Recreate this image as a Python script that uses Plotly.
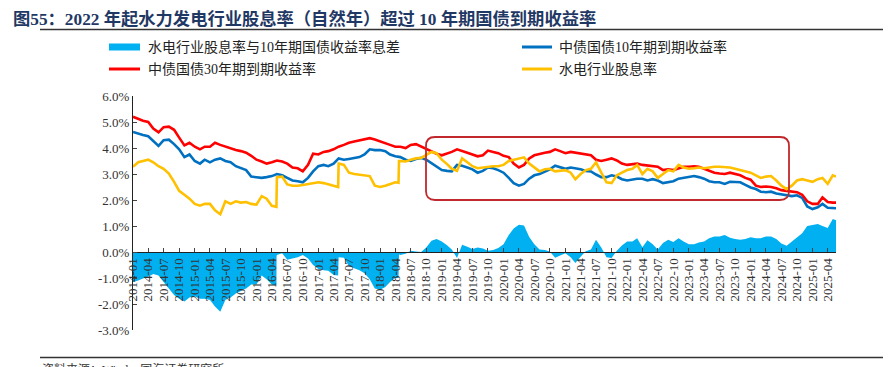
import pandas as pd
import plotly.graph_objects as go

# ---------------- data (monthly, 2014-01 .. 2025-05, plus last trading day) ----------------
month_dates = [d.strftime("%Y-%m-%d") for d in pd.date_range("2014-01-01", periods=137, freq="MS")] + ["2025-05-20"]

cgb10y = [
    4.62, 4.55, 4.50, 4.45, 4.25, 4.08, 4.30, 4.32, 4.15, 3.95, 3.65, 3.75,
    3.50, 3.40, 3.55, 3.45, 3.55, 3.60, 3.50, 3.45, 3.30, 3.22, 3.15, 2.90,
    2.88, 2.85, 2.88, 2.92, 3.00, 2.95, 2.85, 2.75, 2.72, 2.68, 2.85, 3.10,
    3.30, 3.35, 3.30, 3.40, 3.60, 3.55, 3.58, 3.62, 3.65, 3.75, 3.95, 3.92,
    3.92, 3.88, 3.75, 3.68, 3.65, 3.55, 3.50, 3.58, 3.62, 3.55, 3.42, 3.28,
    3.15, 3.12, 3.10, 3.35, 3.32, 3.25, 3.18, 3.05, 3.12, 3.25, 3.22, 3.15,
    3.05, 2.85, 2.65, 2.55, 2.62, 2.82, 2.95, 3.00, 3.10, 3.18, 3.32, 3.25,
    3.20, 3.25, 3.22, 3.18, 3.12, 3.10, 2.98, 2.88, 2.88, 2.95, 2.90, 2.80,
    2.75, 2.80, 2.82, 2.82, 2.75, 2.80, 2.75, 2.65, 2.68, 2.72, 2.82, 2.85,
    2.90, 2.92, 2.88, 2.82, 2.72, 2.68, 2.68, 2.62, 2.70, 2.70, 2.68, 2.58,
    2.48, 2.42, 2.32, 2.30, 2.32, 2.25, 2.22, 2.18, 2.15, 2.18, 2.08, 1.75,
    1.65, 1.72, 1.85, 1.70, 1.68, 1.68,
]

cgb30y = [
    5.20, 5.12, 5.05, 5.00, 4.75, 4.60, 4.80, 4.82, 4.70, 4.40, 4.10, 4.20,
    4.05, 3.95, 4.05, 4.05, 4.20, 4.12, 4.05, 4.00, 3.92, 3.88, 3.82, 3.70,
    3.55, 3.48, 3.40, 3.45, 3.52, 3.48, 3.40, 3.25, 3.22, 3.10, 3.35, 3.78,
    3.75, 3.85, 3.88, 3.95, 4.05, 4.12, 4.20, 4.25, 4.30, 4.35, 4.38, 4.33,
    4.25, 4.20, 4.12, 4.05, 4.05, 4.00, 4.12, 4.15, 4.05, 3.95, 3.88, 3.78,
    3.72, 3.78, 3.85, 3.95, 3.90, 3.82, 3.75, 3.68, 3.72, 3.90, 3.85, 3.80,
    3.70, 3.65, 3.40, 3.25, 3.35, 3.60, 3.72, 3.78, 3.82, 3.85, 3.95, 3.88,
    3.80, 3.85, 3.82, 3.80, 3.75, 3.72, 3.55, 3.50, 3.55, 3.60, 3.52, 3.40,
    3.35, 3.38, 3.40, 3.35, 3.32, 3.30, 3.28, 3.15, 3.18, 3.15, 3.22, 3.28,
    3.28, 3.30, 3.28, 3.20, 3.12, 3.05, 3.02, 3.00, 3.05, 3.00, 2.95, 2.85,
    2.78, 2.55, 2.50, 2.52, 2.50, 2.45, 2.38, 2.35, 2.32, 2.30, 2.20, 1.95,
    1.85, 1.85, 2.10, 1.92, 1.90, 1.90,
]

hydro_yield = [
    3.28, 3.45, 3.50, 3.55, 3.45, 3.30, 3.20, 3.02, 2.70, 2.35, 2.20, 2.05,
    1.85, 1.78, 1.85, 1.85, 1.60, 1.45, 1.95, 1.85, 1.95, 1.90, 1.92, 1.85,
    1.82, 2.15, 2.05, 1.78, 2.88, 2.90, 2.60, 2.55, 2.55, 2.58, 2.62, 2.65,
    2.68, 2.65, 2.60, 2.52, 3.40, 3.35, 3.05, 3.00, 2.98, 2.95, 2.92, 2.55,
    2.50, 2.55, 2.62, 2.68, 3.50, 3.48, 3.55, 3.60, 3.62, 3.72, 3.85, 3.80,
    3.55, 3.38, 3.20, 3.12, 3.60, 3.45, 3.30, 3.22, 3.25, 3.28, 3.30, 3.30,
    3.35, 3.50, 3.55, 3.60, 3.64, 3.40, 3.25, 3.10, 3.18, 3.20, 3.10, 3.12,
    3.15, 3.05, 2.80, 3.00, 3.15, 3.20, 3.45, 3.05, 2.68, 2.65, 2.95, 3.05,
    3.15, 3.20, 3.35, 3.00, 3.20, 3.10, 2.85, 3.00, 3.15, 3.10, 3.35, 3.25,
    3.20, 3.22, 3.25, 3.22, 3.25, 3.28, 3.28, 3.27, 3.25, 3.20, 3.15, 3.08,
    3.05, 2.95, 2.85, 2.90, 2.92, 2.75, 2.55, 2.42, 2.55, 2.75, 2.80, 2.75,
    2.70, 2.80, 2.85, 2.62, 2.95, 2.90,
]

spread = [
    -1.15, -1.10, -1.02, -0.95, -0.85, -0.90, -1.15, -1.40, -1.65, -1.80, -1.90, -1.75,
    -1.70, -1.80, -1.80, -1.85, -2.10, -2.30, -1.85, -1.75, -1.60, -1.50, -1.40, -1.25,
    -1.25, -0.90, -1.05, -1.25, -0.12, -0.05, -0.30, -0.25, -0.20, -0.12, -0.25, -0.50,
    -0.65, -0.70, -0.72, -0.88, -0.20, -0.22, -0.55, -0.62, -0.70, -0.82, -1.05, -1.40,
    -1.45, -1.35, -1.15, -1.00, -0.12, -0.07, 0.05, 0.02, 0.00, 0.17, 0.43, 0.50,
    0.40, 0.26, 0.10, -0.23, 0.28, 0.20, 0.12, 0.17, 0.13, 0.05, 0.08, 0.15,
    0.30, 0.65, 0.90, 1.05, 1.02, 0.58, 0.30, 0.10, 0.08, 0.02, -0.22, -0.13,
    -0.05, -0.20, -0.42, -0.18, 0.03, 0.10, 0.47, 0.17, -0.20, -0.23, 0.05, 0.25,
    0.40, 0.40, 0.53, 0.18, 0.45, 0.30, 0.10, 0.35, 0.47, 0.38, 0.53, 0.40,
    0.30, 0.30, 0.37, 0.40, 0.53, 0.60, 0.60, 0.65, 0.55, 0.50, 0.47, 0.50,
    0.57, 0.53, 0.53, 0.60, 0.60, 0.50, 0.33, 0.24, 0.40, 0.57, 0.72, 1.00,
    1.05, 1.08, 1.00, 0.92, 1.27, 1.22,
]

# dividend-yield step changes (value just before / just after the step)
jump_dates = ["2016-04-28", "2017-04-28", "2018-04-20"]
jump_after_dates = ["2016-04-29", "2017-05-02", "2018-04-23"]
hydro_before = [1.74, 2.50, 2.66]
hydro_after = [2.87, 3.40, 3.50]
spread_before = [-1.30, -0.90, -1.00]
spread_after = [-0.15, -0.20, -0.10]

series_names = ["水电行业股息率与10年期国债收益率息差", "中债国债10年期到期收益率",
                "中债国债30年期到期收益率", "水电行业股息率"]
colors = ["#00B0F0", "#0070C0", "#FF0000", "#FFC000"]

y_ticks = [-3, -2, -1, 0, 1, 2, 3, 4, 5, 6]

title_text = "图55：2022 年起水力发电行业股息率（自然年）超过 10 年期国债到期收益率"
source_text = "资料来源：Wind，国海证券研究所"


def with_steps(values, before, after):
    s = pd.Series(values, index=pd.to_datetime(month_dates))
    extra = pd.Series(before + after, index=pd.to_datetime(jump_dates + jump_after_dates))
    s = pd.concat([s, extra]).sort_index()
    return [d.strftime("%Y-%m-%d") for d in s.index], list(s.values)


hx, hy = with_steps(hydro_yield, hydro_before, hydro_after)
sx, sy = with_steps(spread, spread_before, spread_after)

# ---------------- layout geometry ----------------
# The page body has an 8px margin, so the figure is drawn 8px smaller and
# all "page" pixel positions below are converted accordingly.
OFF = 8
PAGE_W, PAGE_H = 895, 367
W, H = PAGE_W - OFF, PAGE_H - OFF
PLOT_L, PLOT_R, PLOT_T, PLOT_B = 133, 836, 96, 330   # page pixels
ML, MT = PLOT_L - OFF, PLOT_T - OFF
MR, MB = W - (PLOT_R - OFF), H - (PLOT_B - OFF)
PW, PH = W - ML - MR, H - MT - MB


def px(x):
    return (x - PLOT_L) / PW


def py(y):
    return (PLOT_B - y) / PH


SERIF = "Liberation Serif, Noto Sans CJK SC, serif"

fig = go.Figure()
fig.add_trace(go.Scatter(x=sx, y=sy, mode="lines", line=dict(width=0, color=colors[0]),
                         fill="tozeroy", fillcolor=colors[0], name=series_names[0]))
fig.add_trace(go.Scatter(x=month_dates, y=cgb10y, mode="lines",
                         line=dict(width=2.6, color=colors[1]), name=series_names[1]))
fig.add_trace(go.Scatter(x=month_dates, y=cgb30y, mode="lines",
                         line=dict(width=2.6, color=colors[2]), name=series_names[2]))
fig.add_trace(go.Scatter(x=hx, y=hy, mode="lines",
                         line=dict(width=2.6, color=colors[3]), name=series_names[3]))

fig.update_layout(
    width=W, height=H, margin=dict(l=ML, r=MR, t=MT, b=MB, autoexpand=False),
    paper_bgcolor="white", plot_bgcolor="white", showlegend=False,
    xaxis=dict(type="date", range=["2014-01-01", "2025-05-20"],
               tick0="2014-01-01", dtick="M3", tickformat="%Y-%m", tickangle=-90,
               ticks="inside", ticklen=4, tickcolor="#444",
               showline=True, linecolor="#222", linewidth=1, showgrid=False, zeroline=False,
               anchor="free", position=3 / 9,
               tickfont=dict(family=SERIF, size=13, color="#333")),
    yaxis=dict(range=[-3, 6], tickvals=y_ticks, ticktext=[f"{v:.1f}%" for v in y_ticks],
               ticks="inside", ticklen=4, tickcolor="#444",
               showline=True, linecolor="#222", linewidth=1, showgrid=False, zeroline=False,
               tickfont=dict(family=SERIF, size=13, color="#333")),
)

shapes = []
annotations = []

# title and frame lines
annotations.append(dict(xref="paper", yref="paper", x=px(12), y=py(18.5), xanchor="left", yanchor="middle",
                        text="<b>" + title_text + "</b>", showarrow=False, borderpad=0,
                        font=dict(family=SERIF, size=17.3, color="#1F3864")))
shapes.append(dict(type="line", xref="paper", yref="paper", x0=px(40), x1=px(883), y0=py(29.5), y1=py(29.5),
                   line=dict(color="#333", width=1.5)))
shapes.append(dict(type="line", xref="paper", yref="paper", x0=px(40), x1=px(883), y0=py(357.5), y1=py(357.5),
                   line=dict(color="#333", width=1.5)))
annotations.append(dict(xref="paper", yref="paper", x=px(40), y=py(360), xanchor="left", yanchor="top",
                        text=source_text, showarrow=False,
                        font=dict(family=SERIF, size=12, color="#333")))

# legend (manual)
rows = [47, 69]
cols = [(109, 140, 146), (522, 552, 557)]
slots = [(0, 0), (0, 1), (1, 0), (1, 1)]
for i, (r, c) in enumerate(slots):
    yy = rows[r]
    x0, x1, xt = cols[c]
    if i == 0:
        shapes.append(dict(type="rect", xref="paper", yref="paper", x0=px(x0), x1=px(x1),
                           y0=py(yy - 3.5), y1=py(yy + 3.5), fillcolor=colors[i], line=dict(width=0)))
    else:
        shapes.append(dict(type="line", xref="paper", yref="paper", x0=px(x0), x1=px(x1),
                           y0=py(yy), y1=py(yy), line=dict(color=colors[i], width=3)))
    annotations.append(dict(xref="paper", yref="paper", x=px(xt), y=py(yy), xanchor="left", yanchor="middle",
                            text=series_names[i], showarrow=False,
                            font=dict(family=SERIF, size=14, color="#222")))

# red rounded highlight box
bx0, bx1, by0, by1, rr = 426, 789, 137, 200, 9
x0, x1 = px(bx0), px(bx1)
yt, yb = py(by0), py(by1)
rx, ry = rr / PW, rr / PH
path = (f"M {x0+rx},{yt} L {x1-rx},{yt} Q {x1},{yt} {x1},{yt-ry} L {x1},{yb+ry} "
        f"Q {x1},{yb} {x1-rx},{yb} L {x0+rx},{yb} Q {x0},{yb} {x0},{yb+ry} L {x0},{yt-ry} "
        f"Q {x0},{yt} {x0+rx},{yt} Z")
shapes.append(dict(type="path", xref="paper", yref="paper", path=path,
                   line=dict(color="#C0282D", width=1.8)))

fig.update_layout(shapes=shapes, annotations=annotations)
fig.write_html("out.html")
